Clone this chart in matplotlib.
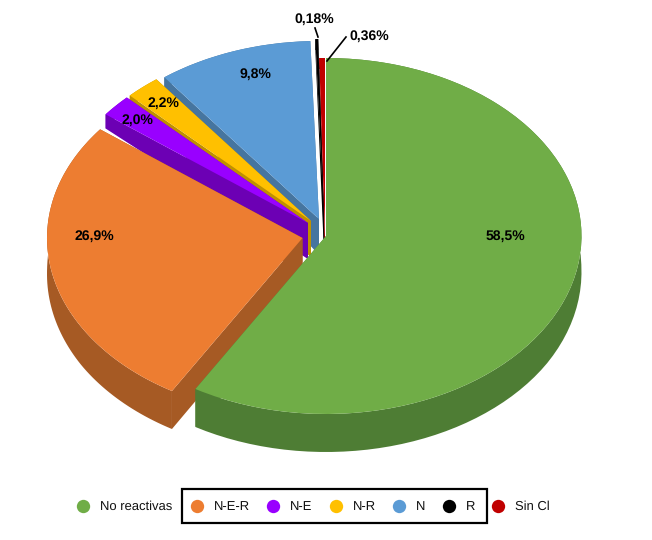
import numpy as np
import matplotlib
matplotlib.use("Agg")
import matplotlib.pyplot as plt
from matplotlib.patches import Polygon, Rectangle

plt.rcParams['font.family'] = ['Liberation Sans', 'DejaVu Sans']
plt.rcParams['text.hinting'] = 'no_hinting'
plt.rcParams['text.hinting_factor'] = 1
plt.rcParams['text.kerning_factor'] = 6

categorias = ['No reactivas', 'N-E-R', 'N-E', 'N-R', 'N', 'R', 'Sin Cl']
valores = [58.5, 26.9, 2.0, 2.2, 9.8, 0.18, 0.36]
etiquetas = ['58,5%', '26,9%', '2,0%', '2,2%', '9,8%', '0,18%', '0,36%']

colores = ['#70AD47', '#ED7D31', '#9900FF', '#FFC000', '#5B9BD5', '#000000', '#C00000']
lados = ['#4E7D34', '#A65A24', '#6C00B4', '#BF9000', '#46759F', '#000000', '#8F0000']

# ellipse of the pie top, in pixels
CX, CY, RX, RY = 325.0, 236.0, 255.5, 178.0
# where each slice apex ends up (pixels)
centros = [(326, 236), (302.5, 238), (308, 223), (311, 221), (319, 219), (324, 217), (325, 236)]
# pixel position of the labels
pos_etiquetas = [(505, 236), (94, 236), (137, 120), (163, 103), (255, 74), (314, 19), (369, 36)]
# legend
x_marcas = [83, 197, 273, 336, 399, 449, 498]
Y_LEY = 506


def X(px):
    return (px - CX) / RX


def Y(py):
    return (CY - py) / RY


def pared(puntos, cy):
    # top edge -> closed polygon down to the bottom edge
    # the wall is thin at the back of the slice and thick at the front
    abajo = []
    for (x, y) in puntos[::-1]:
        g = np.interp(cy - y, [-0.7, 0.0, 0.5], [11, 36, 38])
        abajo.append((x, y - g / RY))
    return list(puntos) + abajo


fig = plt.figure(figsize=(6.52, 5.40), dpi=100)
ax = fig.add_axes([0, 0, 1, 1])

wedges, _ = ax.pie(valores, startangle=90, counterclock=False, colors=colores, radius=1,
                   wedgeprops={'linewidth': 0})
ax.set_aspect('auto')
ax.set_xlim(X(0), X(652))
ax.set_ylim(Y(540), Y(0))
ax.axis('off')

n = len(wedges)
for i, w in enumerate(wedges):
    cx, cy = X(centros[i][0]), Y(centros[i][1])
    w.set_center((cx, cy))
    # back slices first, front ones on top
    z = 2 + 2 * (n - i)
    w.set_zorder(z + 1)

    t = np.radians(np.linspace(w.theta1, w.theta2, 80))
    arco = [(cx + np.cos(a), cy + np.sin(a)) for a in t]
    ax.add_patch(Polygon(pared(arco, cy), closed=True, fc=lados[i], ec='none', zorder=z))
    for p in (arco[0], arco[-1]):
        ax.add_patch(Polygon(pared([(cx, cy), p], cy), closed=True, fc=lados[i], ec='none', zorder=z))

for i, et in enumerate(etiquetas):
    ax.text(X(pos_etiquetas[i][0]), Y(pos_etiquetas[i][1]), et, fontsize=10, fontweight='bold',
            ha='center', va='center', color='black', zorder=40)

# leader lines of the two small slices
ax.plot([X(315), X(318)], [Y(28), Y(37)], color='black', lw=1.2, zorder=40)
ax.plot([X(346), X(327)], [Y(37), Y(61)], color='black', lw=1.2, zorder=40)

for i, c in enumerate(categorias):
    ax.plot(X(x_marcas[i]), Y(Y_LEY), 'o', ms=9.6, mfc=colores[i], mec='none', zorder=40)
    ax.text(X(x_marcas[i] + 17), Y(Y_LEY + 0.5), c, fontsize=9.4, ha='left', va='center',
            color='#111111', zorder=40)

ax.add_patch(Rectangle((X(182), Y(523)), X(487) - X(182), Y(489) - Y(523), fc='none',
                       ec='black', lw=1.6, zorder=40))

fig.savefig('out.png', dpi=100, facecolor='white')
